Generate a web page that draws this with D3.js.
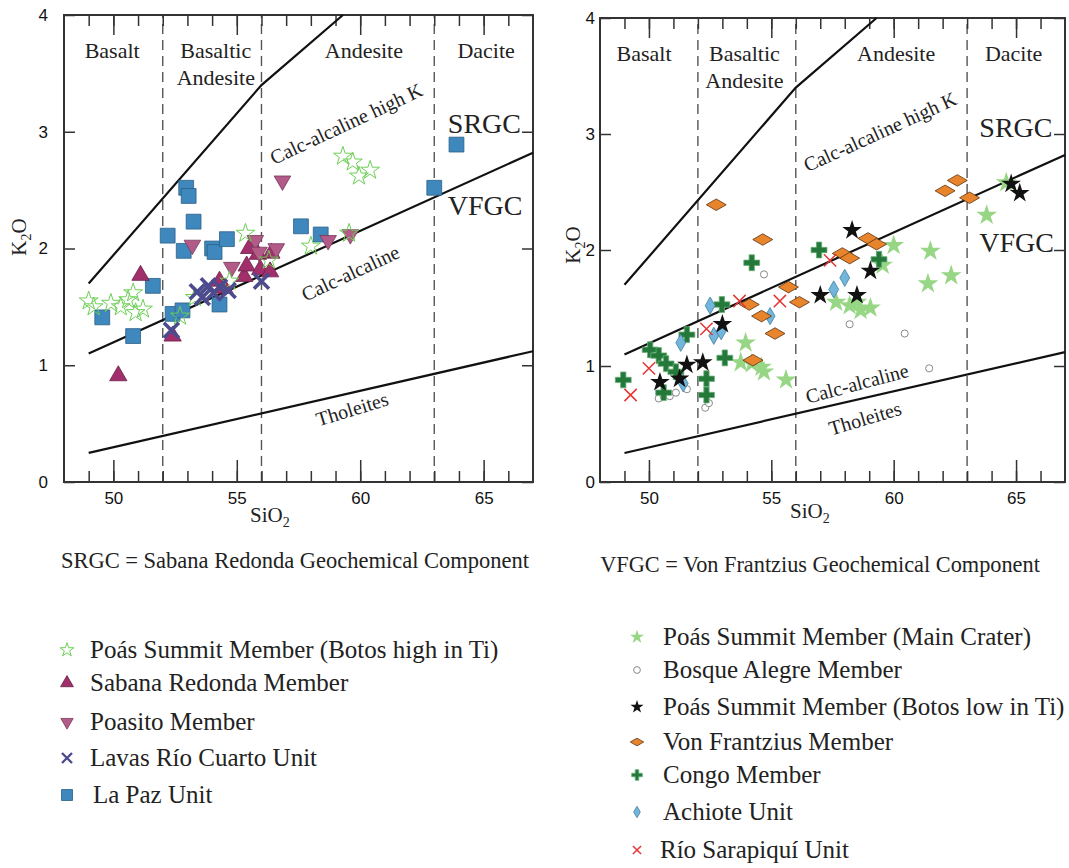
<!DOCTYPE html>
<html>
<head>
<meta charset="utf-8">
<script src="https://cdn.jsdelivr.net/npm/d3@7"></script>
<style>
    body { margin: 0; background: #fff; }
    svg text { font-family: "Liberation Serif", "Times New Roman", serif; fill: #222; }
    .tick text { font-family: "Liberation Sans", Arial, sans-serif; font-size: 17px; fill: #111; }
</style>
</head>
<body>
<div id="chart"></div>
<script>
// K2O vs SiO2 diagrams (two panels)

const xDomain = [48, 67];
const yDomain = [0, 4];
const xMajorTicks = [50, 55, 60, 65];
const xMinorTicks = d3.range(49, 67);
const yTicks = [0, 1, 2, 3, 4];

// field boundaries
const fieldDividers = [52, 56, 63];
const fieldNames = [["Basalt"], ["Basaltic", "Andesite"], ["Andesite"], ["Dacite"]];
const lineShoshonitic = [[49, 1.7], [56, 3.4], [59.3, 4]];
const lineHighK = [[49, 1.1], [67, 2.82]];
const lineTholeiite = [[49, 0.25], [67, 1.12]];

// left panel series
const poasBotosHighTi = [[49.0, 1.55], [49.2, 1.5], [49.9, 1.53], [50.3, 1.5], [50.6, 1.56], [50.8, 1.62], [50.9, 1.45], [51.2, 1.48],
    [52.7, 1.42], [53.3, 1.58], [54.7, 1.72], [55.35, 2.13], [56.3, 1.9], [58.0, 2.02], [59.55, 2.13],
    [59.3, 2.79], [59.7, 2.74], [60.4, 2.67], [59.95, 2.62]];
const sabanaRedonda = [[50.2, 0.91], [51.1, 1.77], [52.4, 1.25], [54.3, 1.72], [54.5, 1.66], [55.3, 1.76], [55.4, 1.85],
    [55.5, 2.0], [55.85, 1.95], [55.95, 1.82], [56.35, 1.8], [56.4, 1.96]];
const poasito = [[53.2, 2.03], [54.8, 1.84], [55.75, 2.07], [56.6, 2.0], [56.85, 2.58], [58.7, 2.07], [59.6, 2.12], [55.9, 1.97]];
const lavasRioCuarto = [[52.35, 1.3], [53.4, 1.63], [53.6, 1.58], [53.85, 1.68], [54.05, 1.62], [54.3, 1.67], [54.65, 1.64], [56.0, 1.72]];
const laPaz = [[49.55, 1.41], [50.8, 1.25], [51.6, 1.68], [52.2, 2.11], [52.4, 1.44], [52.8, 1.47], [52.85, 1.98], [52.95, 2.52],
    [53.05, 2.45], [53.25, 2.23], [54.0, 2.0], [54.1, 1.97], [54.3, 1.52], [54.6, 2.08], [57.6, 2.19], [58.4, 2.12],
    [63.0, 2.52], [63.9, 2.89]];

// right panel series
const poasMainCrater = [[53.95, 1.2], [53.75, 1.03], [54.2, 1.02], [54.6, 0.99], [54.7, 0.95], [55.6, 0.88], [57.65, 1.55],
    [58.2, 1.52], [58.5, 1.55], [58.65, 1.48], [59.05, 1.5], [59.55, 1.87], [60.0, 2.04], [61.5, 1.99], [61.4, 1.71],
    [62.35, 1.78], [63.8, 2.3], [64.6, 2.58]];
const bosqueAlegre = [[50.4, 0.72], [50.6, 0.74], [50.85, 0.74], [51.1, 0.77], [51.55, 0.8], [52.3, 0.64], [52.45, 0.68],
    [54.7, 1.79], [58.2, 1.36], [60.45, 1.28], [61.45, 0.98]];
const poasBotosLowTi = [[50.45, 0.86], [51.25, 0.89], [51.55, 1.01], [52.2, 1.03], [53.0, 1.36], [57.0, 1.61], [58.3, 2.17],
    [58.5, 1.61], [59.05, 1.82], [64.8, 2.57], [65.15, 2.49]];
const vonFrantzius = [[52.75, 2.39], [54.65, 2.09], [54.1, 1.53], [54.6, 1.43], [55.15, 1.28], [55.7, 1.68], [56.15, 1.55],
    [54.25, 1.05], [57.9, 1.97], [58.2, 1.93], [58.95, 2.1], [59.3, 2.05], [62.1, 2.51], [62.6, 2.6], [63.1, 2.45]];
const congo = [[48.95, 0.88], [50.05, 1.14], [50.4, 1.09], [50.7, 1.02], [51.1, 0.95], [50.6, 0.77], [51.55, 1.27],
    [52.35, 0.89], [52.35, 0.75], [53.1, 1.07], [52.98, 1.53], [54.2, 1.89], [56.95, 2.0], [59.4, 1.92]];
const achiote = [[52.5, 1.52], [51.3, 1.2], [51.4, 0.85], [52.65, 1.26], [52.95, 1.3], [54.95, 1.43], [57.55, 1.66], [58.0, 1.76]];
const rioSarapiqui = [[49.25, 0.75], [50.0, 0.98], [52.35, 1.32], [53.7, 1.56], [55.35, 1.56], [57.4, 1.91]];

const leftNames = ["Poás Summit Member (Botos high in Ti)", "Sabana Redonda Member", "Poasito Member", "Lavas Río Cuarto Unit", "La Paz Unit"];
const rightNames = ["Poás Summit Member (Main Crater)", "Bosque Alegre Member", "Poás Summit Member (Botos low in Ti)",
    "Von Frantzius Member", "Congo Member", "Achiote Unit", "Río Sarapiquí Unit"];
const captions = ["SRGC = Sabana Redonda Geochemical Component", "VFGC = Von Frantzius Geochemical Component"];

// styles
const st = {
    openStar: { type: d3.symbolStar, size: 110, fill: "#fff", fillOp: 0, stroke: "#6ccf55", sw: 1 },
    sabana: { type: d3.symbolTriangle, size: 130, fill: "#a12f6c", stroke: "#6a1f48", sw: 0.8 },
    poasito: { type: d3.symbolTriangle, size: 120, fill: "#b25a88", stroke: "#7a3a5c", sw: 0.8, rot: 180 },
    lavas: { type: d3.symbolTimes, size: 150, fill: "none", stroke: "#4c4b8e", sw: 3.6 },
    laPaz: { type: d3.symbolSquare, size: 220, fill: "#3f88bd", stroke: "#2b5f86", sw: 0.8 },
    mainCrater: { type: d3.symbolStar, size: 135, fill: "#96d684", stroke: "none", sw: 0 },
    bosque: { type: d3.symbolCircle, size: 40, fill: "#fff", stroke: "#8a8a8a", sw: 1 },
    botosLow: { type: d3.symbolStar, size: 120, fill: "#111", stroke: "none", sw: 0 },
    vonF: { type: d3.symbolDiamond, size: 115, fill: "#e8842c", stroke: "#5a3312", sw: 0.8, rot: 90 },
    congo: { type: d3.symbolCross, size: 140, fill: "#24793a", stroke: "#68ad78", sw: 0.8 },
    achiote: { type: d3.symbolDiamond, size: 85, fill: "#72b6dc", stroke: "#467f9f", sw: 0.8 },
    sarapiqui: { type: d3.symbolTimes, size: 100, fill: "none", stroke: "#e53535", sw: 1.5 }
};

const svg = d3.select("#chart").append("svg")
    .attr("width", 1069)
    .attr("height", 868);

const panels = [
    {
        left: 64, right: 533, top: 15, bottom: 482, yPad: 16,
        k2o: [19, 237], sio2: [250, 522],
        fieldX: [49.95, 54.15, 60.15, 65.1],
        comp: { x: 63.55, srgc: 2.99, vfgc: 2.29 },
        rotLabels: [
            { t: "Calc-alcaline high K", x: 59.43, y: 3.07, a: -25 },
            { t: "Calc-alcaline", x: 59.6, y: 1.79, a: -25 },
            { t: "Tholeites", x: 59.67, y: 0.625, a: -17 }
        ],
        series: [[laPaz, st.laPaz], [sabanaRedonda, st.sabana], [poasito, st.poasito], [poasBotosHighTi, st.openStar], [lavasRioCuarto, st.lavas]]
    },
    {
        left: 600, right: 1065, top: 18, bottom: 482, yPad: 5,
        k2o: [573, 245], sio2: [790, 518],
        fieldX: [49.8, 53.9, 60.1, 64.9],
        comp: { x: 63.5, srgc: 2.97, vfgc: 1.98 },
        rotLabels: [
            { t: "Calc-alcaline high K", x: 59.44, y: 3.02, a: -24.5 },
            { t: "Calc-alcaline", x: 58.5, y: 0.85, a: -15 },
            { t: "Tholeites", x: 58.83, y: 0.55, a: -16.5 }
        ],
        series: [[poasMainCrater, st.mainCrater], [bosqueAlegre, st.bosque], [congo, st.congo], [achiote, st.achiote],
            [vonFrantzius, st.vonF], [poasBotosLowTi, st.botosLow], [rioSarapiqui, st.sarapiqui]]
    }
];

function drawMarks(g, data, s, x, y) {
    g.append("g").selectAll("path")
        .data(data)
        .join("path")
        .attr("transform", d => `translate(${x(d[0])},${y(d[1])}) rotate(${s.rot || 0})`)
        .attr("d", d3.symbol(s.type, s.size))
        .attr("fill", s.fill)
        .attr("fill-opacity", s.fillOp === undefined ? 1 : s.fillOp)
        .attr("stroke", s.stroke)
        .attr("stroke-width", s.sw);
}

panels.forEach(p => {
    const x = d3.scaleLinear().domain(xDomain).range([p.left, p.right]);
    const y = d3.scaleLinear().domain(yDomain).range([p.bottom, p.top]);
    const g = svg.append("g");

    // dashed field dividers
    g.selectAll("line.div")
        .data(fieldDividers)
        .join("line")
        .attr("x1", d => x(d)).attr("x2", d => x(d))
        .attr("y1", y(0)).attr("y2", y(4))
        .attr("stroke", "#555").attr("stroke-width", 1.4)
        .attr("stroke-dasharray", "10,6");

    // axes, ticks pointing inward
    const axes = g.append("g").attr("color", "#333");
    axes.append("g").attr("transform", `translate(0,${p.bottom})`)
        .call(d3.axisBottom(x).tickValues(xMinorTicks).tickSize(-11).tickFormat(""));
    axes.append("g").attr("transform", `translate(0,${p.bottom})`)
        .call(d3.axisBottom(x).tickValues(xMajorTicks).tickSize(-22).tickPadding(10).tickFormat(d3.format("d")));
    axes.append("g").attr("transform", `translate(0,${p.top})`)
        .call(d3.axisTop(x).tickValues(xMinorTicks).tickSize(-11).tickFormat(""));
    axes.append("g").attr("transform", `translate(0,${p.top})`)
        .call(d3.axisTop(x).tickValues(xMajorTicks).tickSize(-20).tickFormat(""));
    axes.append("g").attr("transform", `translate(${p.left},0)`)
        .call(d3.axisLeft(y).tickValues(yTicks).tickSize(-11).tickPadding(p.yPad).tickFormat(d3.format("d")));
    axes.append("g").attr("transform", `translate(${p.right},0)`)
        .call(d3.axisRight(y).tickValues(yTicks).tickSize(-11).tickFormat(""));
    axes.selectAll(".domain").remove();
    axes.selectAll(".tick line").attr("stroke-width", 1.5);

    g.append("rect")
        .attr("x", p.left).attr("y", p.top)
        .attr("width", p.right - p.left).attr("height", p.bottom - p.top)
        .attr("fill", "none").attr("stroke", "#333").attr("stroke-width", 2);

    // boundary lines
    const line = d3.line().x(d => x(d[0])).y(d => y(d[1]));
    [lineShoshonitic, lineHighK, lineTholeiite].forEach(l => {
        g.append("path").attr("d", line(l))
            .attr("fill", "none").attr("stroke", "#111").attr("stroke-width", 2.2);
    });

    // field names
    fieldNames.forEach((lines, i) => {
        const t = g.append("text")
            .attr("x", x(p.fieldX[i])).attr("y", y(3.63))
            .attr("text-anchor", "middle")
            .attr("font-size", 22);
        lines.forEach((s, j) => {
            t.append("tspan").attr("x", x(p.fieldX[i])).attr("dy", j === 0 ? 0 : 27).text(s);
        });
    });

    // series labels along lines
    p.rotLabels.forEach(r => {
        g.append("text")
            .attr("transform", `translate(${x(r.x)},${y(r.y)}) rotate(${r.a})`)
            .attr("text-anchor", "middle")
            .attr("dy", "0.35em")
            .attr("font-size", 20)
            .text(r.t);
    });

    g.append("text").attr("x", x(p.comp.x)).attr("y", y(p.comp.srgc))
        .attr("font-size", 28).text("SRGC");
    g.append("text").attr("x", x(p.comp.x)).attr("y", y(p.comp.vfgc))
        .attr("font-size", 28).text("VFGC");

    // axis titles
    const k = g.append("text")
        .attr("transform", `translate(${p.k2o[0]},${p.k2o[1]}) rotate(-90)`)
        .attr("text-anchor", "middle").attr("dy", "0.35em")
        .attr("font-size", 21);
    k.append("tspan").text("K");
    k.append("tspan").attr("font-size", 14).attr("dy", 5).text("2");
    k.append("tspan").attr("dy", -5).text("O");

    const si = g.append("text")
        .attr("x", p.sio2[0]).attr("y", p.sio2[1])
        .attr("font-size", 21);
    si.append("tspan").text("SiO");
    si.append("tspan").attr("font-size", 14).attr("dy", 5).text("2");

    // data
    p.series.forEach(([data, s]) => drawMarks(g, data, s, x, y));
});

// captions
svg.append("text").attr("x", 295).attr("y", 568).attr("text-anchor", "middle")
    .attr("font-size", 22.5).text(captions[0]);
svg.append("text").attr("x", 820).attr("y", 572).attr("text-anchor", "middle")
    .attr("font-size", 22.3).text(captions[1]);

// legends
function legendSym(s, scale) {
    return d3.symbol(s.type, s.size * scale)();
}

const leftLegendStyles = [st.openStar, st.sabana, st.poasito, st.lavas, st.laPaz];
const leftRows = [650, 683, 722, 758, 795];
const leftLeg = svg.append("g");
leftNames.forEach((name, i) => {
    const s = leftLegendStyles[i];
    leftLeg.append("path")
        .attr("transform", `translate(67,${leftRows[i]}) rotate(${s.rot || 0})`)
        .attr("d", legendSym(s, i === 3 ? 0.45 : 0.55))
        .attr("fill", s.fill).attr("fill-opacity", s.fillOp === undefined ? 1 : s.fillOp)
        .attr("stroke", s.stroke).attr("stroke-width", i === 3 ? 2.4 : s.sw);
    leftLeg.append("text")
        .attr("x", i === 4 ? 93 : 90).attr("y", leftRows[i]).attr("dy", "0.3em")
        .attr("font-size", 25).text(name);
});

const rightLegendStyles = [st.mainCrater, st.bosque, st.botosLow, st.vonF, st.congo, st.achiote, st.sarapiqui];
const rightRows = [637, 670, 707, 742, 775, 812, 850];
const rightLeg = svg.append("g");
rightNames.forEach((name, i) => {
    const s = rightLegendStyles[i];
    rightLeg.append("path")
        .attr("transform", `translate(637,${rightRows[i]}) rotate(${s.rot || 0})`)
        .attr("d", legendSym(s, i === 1 ? 0.9 : 0.45))
        .attr("fill", s.fill)
        .attr("stroke", s.stroke).attr("stroke-width", s.sw);
    rightLeg.append("text")
        .attr("x", i === 6 ? 660 : 663).attr("y", rightRows[i]).attr("dy", "0.3em")
        .attr("font-size", 25).text(name);
});
</script>
</body>
</html>
